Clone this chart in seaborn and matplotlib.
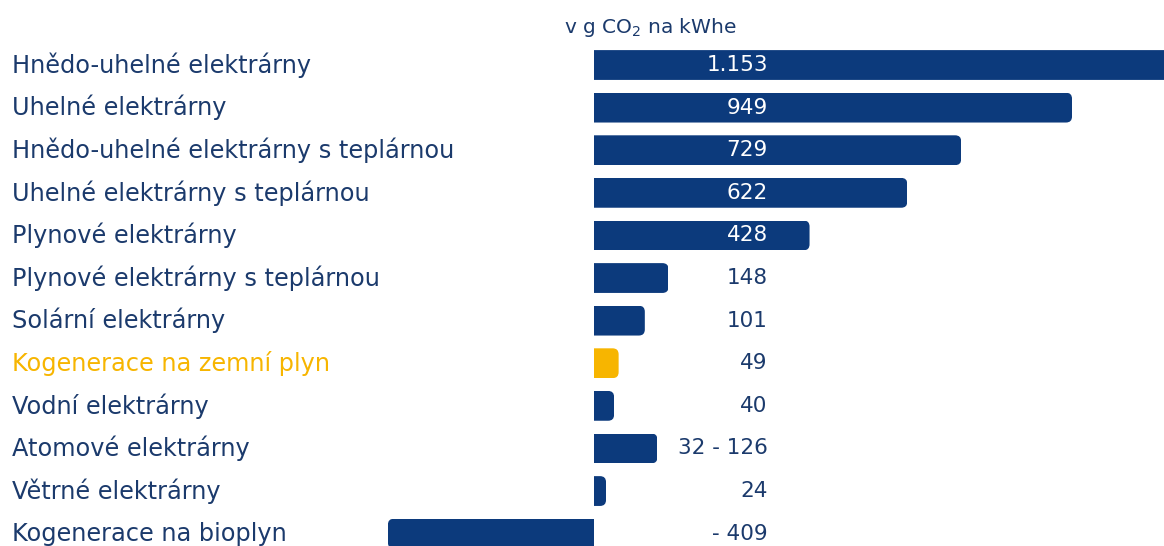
import matplotlib
matplotlib.use('Agg')
import matplotlib.pyplot as plt
from matplotlib.patches import FancyBboxPatch
import seaborn as sns
import pandas as pd

# emise CO2 podle typu zdroje (g CO2 / kWhe)
categories = [
    'Hnědo-uhelné elektrárny',
    'Uhelné elektrárny',
    'Hnědo-uhelné elektrárny s teplárnou',
    'Uhelné elektrárny s teplárnou',
    'Plynové elektrárny',
    'Plynové elektrárny s teplárnou',
    'Solární elektrárny',
    'Kogenerace na zemní plyn',
    'Vodní elektrárny',
    'Atomové elektrárny',
    'Větrné elektrárny',
    'Kogenerace na bioplyn',
]
values = [1153, 949, 729, 622, 428, 148, 101, 49, 40, 126, 24, -409]
value_labels = ['1.153', '949', '729', '622', '428', '148', '101', '49', '40',
                '32 - 126', '24', '- 409']
highlight = 'Kogenerace na zemní plyn'

navy = '#0c3a7c'
orange = '#f7b500'
text_navy = '#1b3a6c'

df = pd.DataFrame({'zdroj': categories, 'co2': values})
palette = {c: (orange if c == highlight else navy) for c in categories}

sns.set_theme(style='white')
plt.rcParams['font.family'] = ['DejaVu Sans']

fig = plt.figure(figsize=(11.64, 5.46), dpi=100)
ax = fig.add_axes([0, 0, 1, 1])
sns.barplot(data=df, x='co2', y='zdroj', hue='zdroj', palette=palette,
            legend=False, width=0.7, saturation=1, ax=ax)

ax.set_xlim(-1179, 1131.6)
ax.set_ylim(11.29, -1.526)
ax.set_xlabel('')
ax.set_ylabel('')
ax.set_xticks([])
sns.despine(ax=ax, left=True, bottom=True)

# rounded bar ends (away from zero)
fig.canvas.draw()
p0 = ax.transData.transform((0, 0))
p1 = ax.transData.transform((1, 1))
sx = abs(p1[0] - p0[0])
sy = abs(p1[1] - p0[1])
r_px = 6
r_x = r_px / sx
aspect = sx / sy
for patch in list(ax.patches):
    x, y, w, h = patch.get_x(), patch.get_y(), patch.get_width(), patch.get_height()
    x0, x1 = min(x, x + w), max(x, x + w)
    if w >= 0:
        bx, bw = x0 - 2 * r_x, (x1 - x0) + 2 * r_x
    else:
        bx, bw = x0, (x1 - x0) + 2 * r_x
    rb = FancyBboxPatch((bx, y), bw, h,
                        boxstyle=f'round,pad=0,rounding_size={r_x}',
                        mutation_aspect=aspect,
                        fc=patch.get_facecolor(), ec='none')
    ax.add_patch(rb)
    rb.set_clip_path(patch)
    patch.set_visible(False)

# value labels
label_x = 345
for i, (v, lab) in enumerate(zip(values, value_labels)):
    ax.text(label_x, i, lab, ha='right', va='center', fontsize=15.5,
            color='white' if v > label_x else text_navy)

ax.text(111, -0.87, 'v g CO$_2$ na kWhe', ha='center', va='center',
        fontsize=14.5, color=text_navy)

ax.tick_params(axis='y', length=0, pad=-8.64)
for lbl in ax.get_yticklabels():
    lbl.set_ha('left')
    lbl.set_va('center')
    lbl.set_fontsize(17.3)
    lbl.set_color(orange if lbl.get_text() == highlight else text_navy)

fig.savefig('out.png', dpi=100)
